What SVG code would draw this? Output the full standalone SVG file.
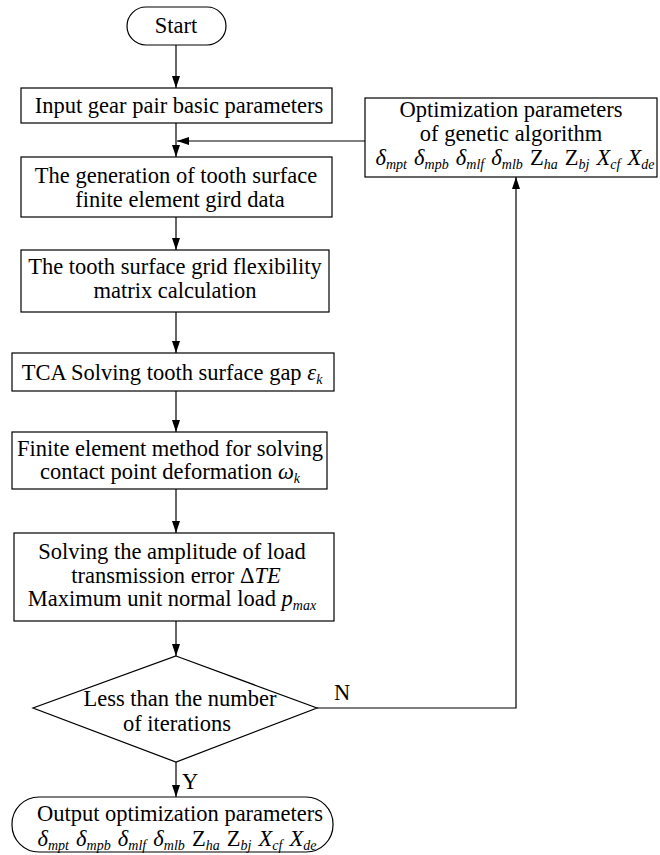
<svg xmlns="http://www.w3.org/2000/svg" width="660" height="855" viewBox="0 0 660 855" font-family="'Liberation Serif', Tinos, 'Times New Roman', 'DejaVu Serif', serif">
<style>
.b{fill:#fff;stroke:#000;stroke-width:1.2}
.t{font-family:'Liberation Serif', Tinos, 'Times New Roman', 'DejaVu Serif', serif;font-size:22.5px;fill:#000;text-anchor:middle}
.i{font-style:italic}
.s{font-style:italic;font-size:14px}
.c{fill:none;stroke:#000;stroke-width:1.2}
</style>
<defs>
<marker id="ah" viewBox="0 0 12 8" refX="12" refY="4" markerWidth="12" markerHeight="8" markerUnits="userSpaceOnUse" orient="auto">
<path d="M0,0 L12,4 L0,8 z" fill="#000"/>
</marker>
</defs>
<rect width="660" height="855" fill="#fff"/>
<g id="connectors">
<line class="c" x1="176" y1="45" x2="176" y2="88" marker-end="url(#ah)"/>
<line class="c" x1="176" y1="123" x2="176" y2="157" marker-end="url(#ah)"/>
<line class="c" x1="365" y1="141" x2="177" y2="141" marker-end="url(#ah)"/>
<line class="c" x1="176" y1="217" x2="176" y2="250" marker-end="url(#ah)"/>
<line class="c" x1="176" y1="312" x2="176" y2="353" marker-end="url(#ah)"/>
<line class="c" x1="176" y1="391" x2="176" y2="432" marker-end="url(#ah)"/>
<line class="c" x1="176" y1="489" x2="176" y2="533" marker-end="url(#ah)"/>
<line class="c" x1="176" y1="621" x2="176" y2="656" marker-end="url(#ah)"/>
<line class="c" x1="176" y1="762" x2="176" y2="797" marker-end="url(#ah)"/>
<polyline class="c" points="317,708 516,708 516,177" marker-end="url(#ah)"/>
<text class="t" x="342" y="700">N</text>
<text class="t" x="190" y="789">Y</text>
</g>
<g id="start">
<rect class="b" x="127" y="7" width="99" height="38" rx="19"/>
<text class="t" x="176" y="33">Start</text>
</g>
<g id="input">
<rect class="b" x="21" y="88" width="311" height="35"/>
<text class="t" x="179" y="113">Input gear pair basic parameters</text>
</g>
<g id="generation">
<rect class="b" x="21" y="157" width="311" height="60"/>
<text class="t" x="176" y="183">The generation of tooth surface</text>
<text class="t" x="180" y="207">finite element gird data</text>
</g>
<g id="flexibility">
<rect class="b" x="21" y="250" width="308" height="62"/>
<text class="t" x="175" y="274">The tooth surface grid flexibility</text>
<text class="t" x="175" y="298">matrix calculation</text>
</g>
<g id="tca">
<rect class="b" x="12" y="353" width="322" height="38"/>
<text class="t" x="172" y="380">TCA Solving tooth surface gap <tspan class="i">ε</tspan><tspan class="s" dy="4">k</tspan></text>
</g>
<g id="fem">
<rect class="b" x="12" y="432" width="315" height="57"/>
<text class="t" x="170" y="456">Finite element method for solving</text>
<text class="t" x="170" y="479">contact point deformation <tspan class="i">ω</tspan><tspan class="s" dy="4">k</tspan></text>
</g>
<g id="solving">
<rect class="b" x="14" y="533" width="320" height="88"/>
<text class="t" x="172" y="559">Solving the amplitude of load</text>
<text class="t" x="176" y="583">transmission error Δ<tspan class="i">TE</tspan></text>
<text class="t" x="172" y="606">Maximum unit normal load  <tspan class="i">p</tspan><tspan class="s" dy="4">max</tspan></text>
</g>
<g id="decision">
<polygon class="b" points="176,656 317,708 176,762 33,708"/>
<text class="t" x="180" y="706">Less than the number</text>
<text class="t" x="177" y="731">of iterations</text>
</g>
<g id="output">
<rect class="b" x="12" y="797" width="321" height="55" rx="27"/>
<text class="t" x="180" y="821">Output optimization parameters</text>
<text class="t" x="177" y="846"><tspan class="i">δ</tspan><tspan class="s" dy="4">mpt</tspan><tspan dy="-4" dx="1.5"> </tspan><tspan class="i">δ</tspan><tspan class="s" dy="4">mpb</tspan><tspan dy="-4" dx="1.5"> </tspan><tspan class="i">δ</tspan><tspan class="s" dy="4">mlf</tspan><tspan dy="-4" dx="1.5"> </tspan><tspan class="i">δ</tspan><tspan class="s" dy="4">mlb</tspan><tspan dy="-4" dx="1.5"> Z</tspan><tspan class="s" dy="4">ha</tspan><tspan dy="-4" dx="1.5"> Z</tspan><tspan class="s" dy="4">bj</tspan><tspan dy="-4" dx="1.5"> </tspan><tspan class="i">X</tspan><tspan class="s" dy="4">cf</tspan><tspan dy="-4" dx="1.5"> </tspan><tspan class="i">X</tspan><tspan class="s" dy="4">de</tspan></text>
</g>
<g id="optimization">
<rect class="b" x="365" y="98" width="292" height="79"/>
<text class="t" x="511" y="117">Optimization parameters</text>
<text class="t" x="511" y="141">of genetic algorithm</text>
<text class="t" x="515" y="165"><tspan class="i">δ</tspan><tspan class="s" dy="4">mpt</tspan><tspan dy="-4" dx="1.5"> </tspan><tspan class="i">δ</tspan><tspan class="s" dy="4">mpb</tspan><tspan dy="-4" dx="1.5"> </tspan><tspan class="i">δ</tspan><tspan class="s" dy="4">mlf</tspan><tspan dy="-4" dx="1.5"> </tspan><tspan class="i">δ</tspan><tspan class="s" dy="4">mlb</tspan><tspan dy="-4" dx="1.5"> Z</tspan><tspan class="s" dy="4">ha</tspan><tspan dy="-4" dx="1.5"> Z</tspan><tspan class="s" dy="4">bj</tspan><tspan dy="-4" dx="1.5"> </tspan><tspan class="i">X</tspan><tspan class="s" dy="4">cf</tspan><tspan dy="-4" dx="1.5"> </tspan><tspan class="i">X</tspan><tspan class="s" dy="4">de</tspan></text>
</g>
</svg>
